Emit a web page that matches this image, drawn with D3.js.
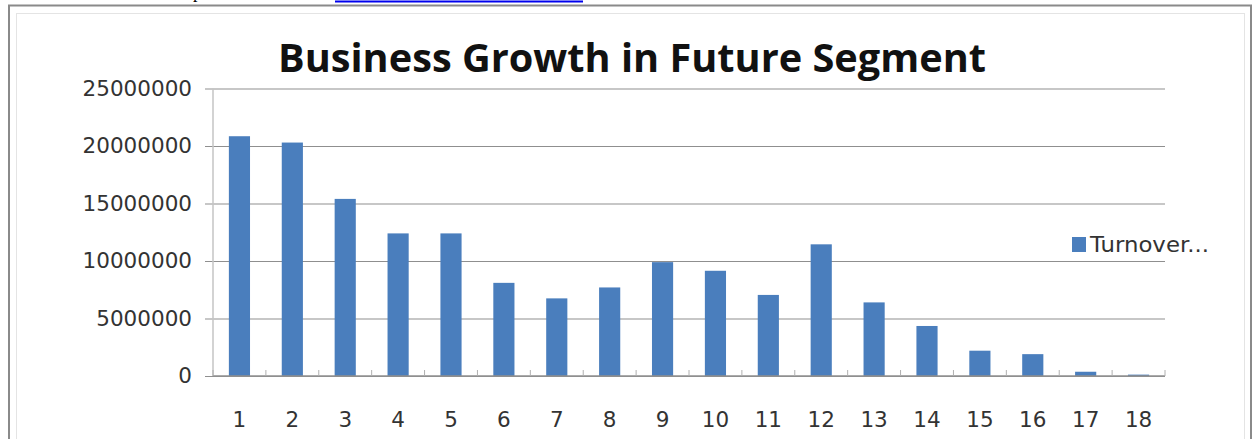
<!DOCTYPE html>
<html>
<head>
<meta charset="utf-8">
<script src="https://cdn.jsdelivr.net/npm/d3@7"></script>
<style>
  html, body { margin: 0; padding: 0; background: #fff; overflow: hidden; }
</style>
</head>
<body>
<div id="chart"></div>
<script>
// data
const categories = ["1","2","3","4","5","6","7","8","9","10","11","12","13","14","15","16","17","18"];
const turnover   = [20850000, 20300000, 15400000, 12400000, 12400000, 8100000, 6750000, 7700000, 9900000,
                    9150000, 7050000, 11450000, 6400000, 4350000, 2200000, 1900000, 370000, 120000];
const yTicks     = [0, 5000000, 10000000, 15000000, 20000000, 25000000];
const seriesName = "Turnover...";
const title      = "Business Growth in Future Segment";

const W = 1255, H = 439;
const M = { left: 213, right: 90, top: 88.5, bottom: 63 };
const iW = W - M.left - M.right;
const iH = H - M.top - M.bottom;

const svg = d3.select("#chart").append("svg")
  .attr("width", W).attr("height", H);

// page text fragment cut off at the top (only its descender shows in the reference)
svg.append("text").attr("x", 193).attr("y", -2)
  .attr("font-family", "'Liberation Serif',serif").attr("font-size", 18)
  .attr("fill", "#000").text("p");
svg.append("line").attr("x1", 335).attr("x2", 583).attr("y1", 1.5).attr("y2", 1.5)
  .attr("stroke", "#0000ee").attr("stroke-width", 2);

// frames
svg.append("rect").attr("x", 9).attr("y", 5.5).attr("width", 1242).attr("height", 460)
  .attr("fill", "none").attr("stroke", "#8a8a8a").attr("stroke-width", 2);
svg.append("rect").attr("x", 16.5).attr("y", 13.5).attr("width", 1228).attr("height", 460)
  .attr("fill", "none").attr("stroke", "#e4e4e4").attr("stroke-width", 1);

// title
svg.append("text").attr("x", 632).attr("y", 72)
  .attr("text-anchor", "middle")
  .attr("font-family", "'Open Sans',sans-serif").attr("font-weight", "bold")
  .attr("font-size", 40).attr("textLength", 708).attr("lengthAdjust", "spacingAndGlyphs")
  .attr("fill", "#111").text(title);

const g = svg.append("g").attr("transform", `translate(${M.left},${M.top})`);

const x = d3.scaleBand().domain(categories).range([0, iW])
  .paddingInner(0.6).paddingOuter(0.3);
const y = d3.scaleLinear().domain([0, 25000000]).range([iH, 0]);

// gridlines (extend left as tick marks)
g.append("g")
  .call(d3.axisLeft(y).tickValues(yTicks).tickSize(-iW - 8).tickFormat(""))
  .attr("transform", "translate(-8,0)")
  .call(g => g.select(".domain").remove())
  .call(g => g.selectAll(".tick line").attr("stroke", "#8f8f8f").attr("stroke-width", 1.2));

// y axis line
g.append("line").attr("x1", 0).attr("x2", 0).attr("y1", 0).attr("y2", iH)
  .attr("stroke", "#c4c4c4").attr("stroke-width", 1.5);

// bars
g.selectAll(".bar").data(turnover).join("rect")
  .attr("class", "bar")
  .attr("x", (d, i) => x(categories[i]))
  .attr("y", d => y(d))
  .attr("width", x.bandwidth())
  .attr("height", d => iH - y(d))
  .attr("fill", "#4a7ebd");

// x axis line + category boundary ticks
g.append("line").attr("x1", 0).attr("x2", iW).attr("y1", iH).attr("y2", iH)
  .attr("stroke", "#8f8f8f").attr("stroke-width", 1.5);
const bounds = d3.range(categories.length + 1).map(i => i * x.step());
g.selectAll(".xtick").data(bounds).join("line")
  .attr("x1", d => d).attr("x2", d => d)
  .attr("y1", iH).attr("y2", iH - 6)
  .attr("stroke", "#b0b0b0").attr("stroke-width", 1);

// y labels
g.append("g")
  .call(d3.axisLeft(y).tickValues(yTicks).tickSize(0).tickPadding(21).tickFormat(d => d))
  .call(g => g.select(".domain").remove())
  .call(g => g.selectAll("text").attr("fill", "#333").attr("font-size", 21.5)
    .attr("font-family", "'DejaVu Sans',sans-serif"));

// x labels
g.append("g").attr("transform", `translate(0,${iH})`)
  .call(d3.axisBottom(x).tickSize(0).tickPadding(36))
  .call(g => g.select(".domain").remove())
  .call(g => g.selectAll("text").attr("fill", "#333").attr("font-size", 21.5)
    .attr("font-family", "'DejaVu Sans',sans-serif"));

// legend
const lg = svg.append("g").attr("transform", "translate(1072,237)");
lg.append("rect").attr("width", 14).attr("height", 15).attr("fill", "#4a7ebd");
lg.append("text").attr("x", 18).attr("y", 15)
  .attr("font-family", "'DejaVu Sans',sans-serif").attr("font-size", 20.5)
  .attr("textLength", 119).attr("lengthAdjust", "spacingAndGlyphs")
  .attr("fill", "#333").text(seriesName);
</script>
</body>
</html>
